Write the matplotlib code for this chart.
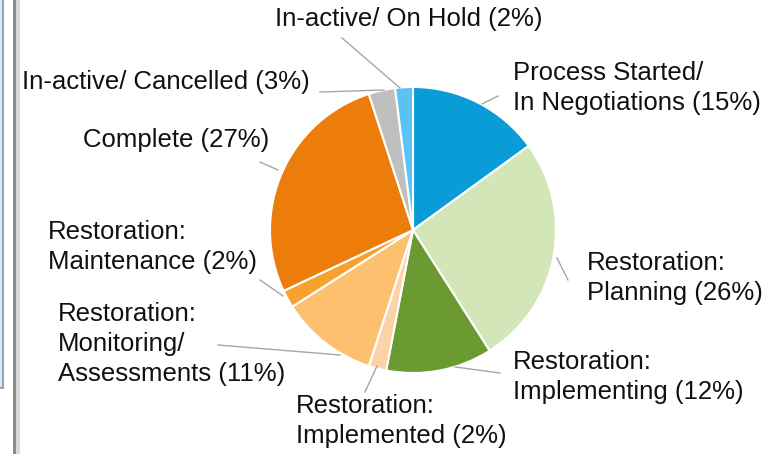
import matplotlib.pyplot as plt
from matplotlib.patches import Rectangle

plt.rcParams['font.family'] = ['Liberation Sans', 'DejaVu Sans']

W, H = 779, 454

statuses = [
    "Process Started/\nIn Negotiations",
    "Restoration:\nPlanning",
    "Restoration:\nImplementing",
    "Restoration:\nImplemented",
    "Restoration:\nMonitoring/\nAssessments",
    "Restoration:\nMaintenance",
    "Complete",
    "In-active/ Cancelled",
    "In-active/ On Hold",
]
shares = [15, 26, 12, 2, 11, 2, 27, 3, 2]
colors = ["#0A9CD6", "#D3E6B8", "#6B9A33", "#FBD3A6", "#FDC06F",
          "#F7A22F", "#EC7D0A", "#BFBFBF", "#5BC3F3"]

# label anchor (left x, centre y of text block, pixel coords) and leader line
label_pos = [(513, 88), (587, 278), (513, 377), (296, 421), (58, 344),
             (48, 247), (83, 140), (22, 82), (275, 19)]
leaders = [((482, 104), (498, 96)), ((557, 258), (568, 280)),
           ((455, 367), (500, 373)), ((377, 366), (365, 392)),
           ((218, 345), (340, 355)), ((260, 280), (283, 296)),
           ((260, 162), (278, 170)), ((320, 92), (384, 90)),
           ((342, 38), (400, 88))]

fig = plt.figure(figsize=(W / 100, H / 100), dpi=100)
ax = fig.add_axes([0, 0, 1, 1])
ax.set_xlim(0, W)
ax.set_ylim(0, H)
ax.set_aspect("equal")
ax.axis("off")

ax.pie(shares, colors=colors, startangle=90, counterclock=False,
       center=(413, H - 230), radius=143,
       wedgeprops=dict(edgecolor="white", linewidth=1.5))
ax.set_xlim(0, W)
ax.set_ylim(0, H)

for (p0, p1) in leaders:
    ax.plot([p0[0], p1[0]], [H - p0[1], H - p1[1]], color="#A6A6A6", lw=1)

for name, val, (x, y) in zip(statuses, shares, label_pos):
    ax.text(x, H - y, f"{name} ({val}%)", fontsize=18.5, ha="left",
            va="center", linespacing=1.3, color="#111111")

# frame pieces on the left edge
ax.add_patch(Rectangle((-2, H - 388), 5.5, 390, facecolor="#DCE8F5",
                       edgecolor="#7F93AD", lw=1.2))
ax.add_patch(Rectangle((13, -1), 3, H + 2, facecolor="#8C8C8C",
                       edgecolor="none"))
ax.add_patch(Rectangle((16, -1), 4, H + 2, facecolor="#D9D9D9",
                       edgecolor="none"))

fig.savefig("out.png", dpi=100)
